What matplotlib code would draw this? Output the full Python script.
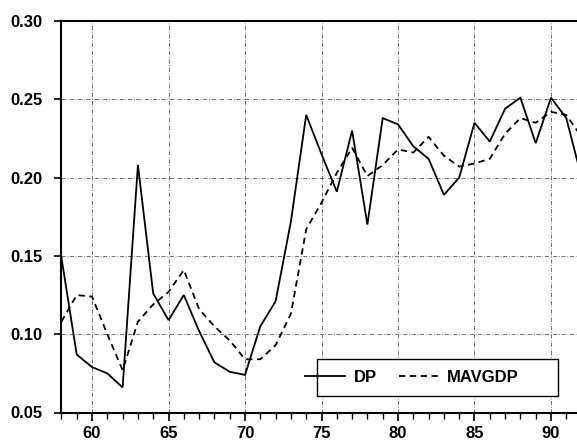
import matplotlib
matplotlib.use("Agg")
import matplotlib.pyplot as plt
from matplotlib.patches import Rectangle
from matplotlib.ticker import MultipleLocator, FormatStrFormatter

years = list(range(58, 93))
dp = [0.149, 0.087, 0.079, 0.075, 0.066, 0.208, 0.126, 0.109, 0.125, 0.102,
      0.082, 0.076, 0.074, 0.105, 0.121, 0.172, 0.240, 0.215, 0.191, 0.230,
      0.170, 0.238, 0.234, 0.220, 0.212, 0.189, 0.200, 0.235, 0.223, 0.244,
      0.251, 0.222, 0.251, 0.238, 0.200]
mavgdp = [0.108, 0.125, 0.124, 0.100, 0.077, 0.108, 0.119, 0.127, 0.141, 0.116,
          0.105, 0.096, 0.084, 0.084, 0.093, 0.113, 0.167, 0.184, 0.203, 0.219,
          0.201, 0.208, 0.218, 0.216, 0.226, 0.214, 0.207, 0.209, 0.212, 0.228,
          0.238, 0.235, 0.242, 0.240, 0.226]
y_ticks = [0.05, 0.10, 0.15, 0.20, 0.25, 0.30]
x_ticks = [60, 65, 70, 75, 80, 85, 90]

plt.rcParams['font.family'] = ['Liberation Sans', 'DejaVu Sans']

fig = plt.figure(figsize=(5.77, 4.43), dpi=100)
ax = fig.add_axes([60.5/577, 30.5/443, 1 - 60.5/577, 391.5/443])

ax.plot(years, dp, color='black', lw=1.3, label='DP', solid_joinstyle='miter')
ax.plot(years, mavgdp, color='black', lw=1.3, dashes=(3.5, 2.5), label='MAVGDP')

ax.set_xlim(57.94, 91.70)
ax.set_ylim(0.05, 0.30)
ax.set_yticks(y_ticks)
ax.set_xticks(x_ticks)
ax.xaxis.set_minor_locator(MultipleLocator(1))
ax.yaxis.set_major_formatter(FormatStrFormatter('%.2f'))

ax.grid(True, which='major', color='0.35', lw=0.6, linestyle=(0, (5, 2, 1, 2)))
ax.set_axisbelow(True)

for s in ['left', 'bottom', 'top']:
    ax.spines[s].set_linewidth(1.5)
    ax.spines[s].set_color('black')
ax.spines['right'].set_visible(False)

ax.tick_params(axis='y', which='major', direction='out', length=5, width=1.2,
               labelsize=12, pad=8)
ax.tick_params(axis='x', which='major', direction='out', length=6, width=1.2,
               labelsize=12, pad=4)
ax.tick_params(axis='x', which='minor', direction='out', length=4, width=1.0)
for lab in ax.get_xticklabels() + ax.get_yticklabels():
    lab.set_fontweight('bold')

# legend box
bx0 = (317 - 60.5) / 516.5
bx1 = (558 - 60.5) / 516.5
by0 = (413 - 396) / 392
by1 = (413 - 359) / 392
ax.add_patch(Rectangle((bx0, by0), bx1 - bx0, by1 - by0, transform=ax.transAxes,
                       facecolor='white', edgecolor='black', lw=1.0, zorder=5))
leg = ax.legend(loc='center', bbox_to_anchor=((412 - 60.5) / 516.5, (by0 + by1) / 2),
                ncol=2, frameon=False, handlelength=2.4,
                handletextpad=0.5, columnspacing=1.3, prop={'weight': 'bold', 'size': 12})
leg.set_zorder(6)

fig.savefig('out.png', dpi=100)
